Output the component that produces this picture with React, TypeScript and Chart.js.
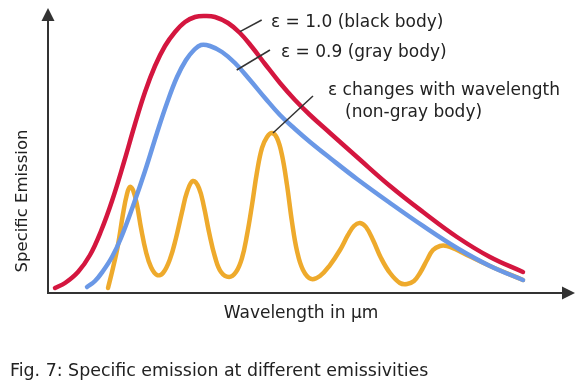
import { useEffect, useRef } from "react";
import { Chart, registerables } from "chart.js";

Chart.register(...registerables);

// ---- data (wavelength 0..10 µm, relative specific emission 0..100) ----
const blackBodyX = [0.133, 0.323, 0.569, 0.797, 1.006, 1.214, 1.442, 1.651, 1.841, 2.03, 2.22, 2.41, 2.6, 2.789, 2.979, 3.169, 3.416, 3.643, 3.871, 4.118, 4.402, 4.687, 4.972, 5.351, 5.863, 6.49, 7.116, 7.761, 8.387, 9.013];
const blackBodyY = [1.77, 3.53, 7.42, 13.43, 21.91, 32.51, 46.29, 59.72, 71.03, 80.21, 87.28, 92.23, 95.76, 97.53, 97.88, 97.53, 95.41, 91.87, 86.93, 80.92, 74.21, 68.2, 62.9, 56.54, 48.06, 37.81, 28.62, 19.79, 12.72, 7.42];

const grayBodyX = [0.74, 0.892, 1.044, 1.214, 1.385, 1.613, 1.841, 2.068, 2.258, 2.448, 2.619, 2.77, 2.903, 3.074, 3.302, 3.548, 3.833, 4.118, 4.402, 4.687, 4.972, 5.351, 5.863, 6.49, 7.116, 7.761, 8.387, 9.013];
const grayBodyY = [2.12, 4.24, 7.77, 12.72, 19.43, 30.74, 43.11, 56.54, 67.14, 76.33, 82.33, 85.87, 87.63, 87.28, 85.16, 81.27, 75.27, 68.91, 62.9, 57.95, 53.36, 47.7, 40.28, 31.8, 23.68, 15.9, 9.54, 4.59];

const nonGrayX = [1.139, 1.233, 1.328, 1.423, 1.499, 1.556, 1.613, 1.689, 1.765, 1.86, 1.954, 2.068, 2.182, 2.315, 2.429, 2.543, 2.638, 2.751, 2.865, 2.96, 3.055, 3.169, 3.283, 3.435, 3.567, 3.681, 3.776, 3.871, 3.966, 4.061, 4.156, 4.25, 4.345, 4.44, 4.535, 4.63, 4.725, 4.839, 4.991, 5.161, 5.351, 5.541, 5.693, 5.806, 5.92, 6.034, 6.167, 6.319, 6.49, 6.679, 6.812, 6.945, 7.059, 7.192, 7.305, 7.438, 7.571, 7.723, 7.875, 8.387, 9.013];
const nonGrayY = [1.77, 8.83, 16.96, 27.92, 34.98, 37.46, 36.4, 31.1, 22.97, 14.49, 9.19, 6.36, 7.07, 12.01, 19.43, 28.62, 35.69, 39.58, 37.1, 30.39, 21.56, 12.72, 7.42, 5.65, 7.42, 12.37, 20.5, 31.1, 42.76, 51.24, 55.12, 56.54, 54.77, 48.76, 38.16, 25.09, 14.84, 8.13, 4.95, 6.01, 9.89, 15.19, 20.5, 23.68, 24.74, 23.32, 18.73, 12.37, 7.07, 3.53, 3.18, 4.24, 7.07, 11.66, 15.19, 16.61, 16.61, 15.55, 14.13, 9.54, 4.59];

const seriesLabels = ["ε = 1.0 (black body)", "ε = 0.9 (gray body)", "ε changes with wavelength (non-gray body)"];

// annotations, in data coordinates
const annotationTexts = ["ε = 1.0 (black body)", "ε = 0.9 (gray body)", "ε changes with wavelength", "(non-gray body)"];
const annotationTextX = [4.231, 4.421, 5.313, 5.636];
const annotationTextY = [93.99, 83.39, 69.96, 62.19];
const leaderFromX = [3.643, 3.581, 4.269];
const leaderFromY = [92.33, 78.8, 56.54];
const leaderToX = [4.055, 4.212, 5.028];
const leaderToY = [96.47, 85.87, 69.61];

const xAxisTitle = "Wavelength in µm";
const yAxisTitle = "Specific Emission";
const caption = "Fig. 7: Specific emission at different emissivities";

const toPoints = (xs: number[], ys: number[]) => xs.map((x, i) => ({ x, y: ys[i] }));

const FONT = '"DejaVu Sans", sans-serif';
const TEXT = "#222";
const AXIS = "#333";

const decorPlugin = {
  id: "decor",
  beforeDatasetsDraw(chart: any) {
    const { ctx, chartArea } = chart;
    const { left, right, top, bottom } = chartArea;
    ctx.save();
    ctx.strokeStyle = AXIS;
    ctx.fillStyle = AXIS;
    ctx.lineWidth = 2;
    ctx.beginPath();
    ctx.moveTo(left, bottom + 1);
    ctx.lineTo(left, top + 8);
    ctx.stroke();
    ctx.beginPath();
    ctx.moveTo(left, top - 2);
    ctx.lineTo(left - 6.5, top + 11);
    ctx.lineTo(left + 6.5, top + 11);
    ctx.closePath();
    ctx.fill();
    ctx.beginPath();
    ctx.moveTo(left - 1, bottom);
    ctx.lineTo(right - 10, bottom);
    ctx.stroke();
    ctx.beginPath();
    ctx.moveTo(right, bottom);
    ctx.lineTo(right - 13, bottom - 6.5);
    ctx.lineTo(right - 13, bottom + 6.5);
    ctx.closePath();
    ctx.fill();
    ctx.restore();
  },
  afterDatasetsDraw(chart: any) {
    const { ctx, chartArea, scales } = chart;
    const xs = scales.x;
    const ys = scales.y;
    ctx.save();
    ctx.strokeStyle = "#333";
    ctx.lineWidth = 1.5;
    for (let i = 0; i < leaderFromX.length; i++) {
      ctx.beginPath();
      ctx.moveTo(xs.getPixelForValue(leaderFromX[i]), ys.getPixelForValue(leaderFromY[i]));
      ctx.lineTo(xs.getPixelForValue(leaderToX[i]), ys.getPixelForValue(leaderToY[i]));
      ctx.stroke();
    }
    ctx.fillStyle = TEXT;
    ctx.font = `17px ${FONT}`;
    ctx.textAlign = "left";
    ctx.textBaseline = "alphabetic";
    for (let i = 0; i < annotationTexts.length; i++) {
      ctx.fillText(annotationTexts[i], xs.getPixelForValue(annotationTextX[i]), ys.getPixelForValue(annotationTextY[i]));
    }
    ctx.textAlign = "center";
    ctx.fillText(xAxisTitle, 301, chartArea.bottom + 25);
    ctx.save();
    ctx.translate(23, 201);
    ctx.rotate(-Math.PI / 2);
    ctx.textBaseline = "middle";
    ctx.font = `16.5px ${FONT}`;
    ctx.fillText(yAxisTitle, 0, 0);
    ctx.restore();
    ctx.textAlign = "left";
    ctx.font = `17.4px ${FONT}`;
    ctx.fillText(caption, 10, 376);
    ctx.restore();
  },
};

export default function App() {
  const ref = useRef<HTMLCanvasElement | null>(null);
  useEffect(() => {
    document.body.style.margin = "0";
    const canvas = ref.current!;
    const common = {
      showLine: true,
      fill: false,
      pointRadius: 0,
      pointHoverRadius: 0,
      borderWidth: 4.5,
      tension: 0.4,
      borderCapStyle: "round" as const,
      borderJoinStyle: "round" as const,
    };
    const chart = new Chart(canvas, {
      type: "scatter",
      data: {
        datasets: [
          { ...common, label: seriesLabels[0], data: toPoints(blackBodyX, blackBodyY), borderColor: "#d4163f", backgroundColor: "#d4163f" },
          { ...common, label: seriesLabels[1], data: toPoints(grayBodyX, grayBodyY), borderColor: "#6a98e6", backgroundColor: "#6a98e6" },
          { ...common, label: seriesLabels[2], data: toPoints(nonGrayX, nonGrayY), borderColor: "#eeaa2c", backgroundColor: "#eeaa2c" },
        ],
      },
      options: {
        animation: false,
        responsive: false,
        maintainAspectRatio: false,
        layout: { padding: { left: 48, right: 10, top: 10, bottom: 97 } },
        plugins: { legend: { display: false }, tooltip: { enabled: false }, title: { display: false } },
        scales: {
          x: { type: "linear", min: 0, max: 10, display: false },
          y: { type: "linear", min: 0, max: 100, display: false },
        },
        events: [],
      },
      plugins: [decorPlugin],
    });
    return () => chart.destroy();
  }, []);
  return (
    <div style={{ position: "absolute", left: 0, top: 0, width: 585, height: 390, background: "#fff" }}>
      <canvas ref={ref} width={585} height={390} style={{ width: 585, height: 390, display: "block" }} />
    </div>
  );
}
